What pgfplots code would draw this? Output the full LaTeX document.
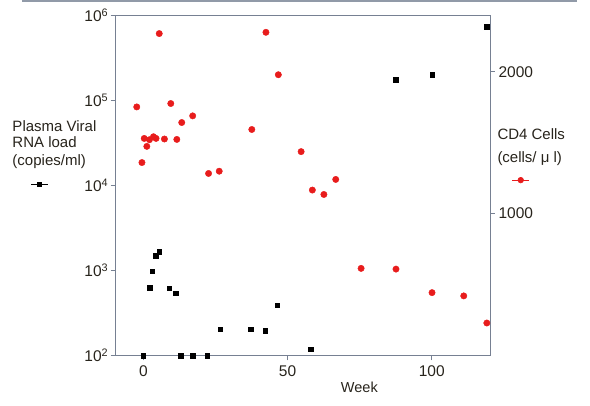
\documentclass[border=0pt]{standalone}
\usepackage{fontspec}
\setmainfont{Liberation Sans}
\usepackage{pgfplots}
\pgfplotsset{compat=1.18}
\definecolor{framegray}{RGB}{118,128,146}
\definecolor{inkbrown}{RGB}{40,36,28}
\definecolor{dotred}{RGB}{232,28,28}
\begin{document}
\begin{tikzpicture}[x=1pt,y=1pt]
\pgfplotsset{every axis/.append style={scale only axis,width=374.3pt,height=340.5pt,
  xmin=-9.6,xmax=120.2,at={(0,0)},anchor=south west,clip=false,
  tick align=outside,major tick length=5pt,
  axis line style={framegray,line width=0.8pt},tick style={framegray,line width=0.8pt},
  ticklabel style={font=\fontsize{15.5}{17}\selectfont,text=inkbrown}}}
% left: plasma viral RNA load (log)
\begin{axis}[ymode=log,ymin=100,ymax=1e6,ytick={1e2,1e3,1e4,1e5,1e6},
  yticklabels={10\textsuperscript{2},10\textsuperscript{3},10\textsuperscript{4},10\textsuperscript{5},10\textsuperscript{6}},
  yminorticks=false,xtick={0,50,100},xticklabels={0,50,100},tick pos=left,
  xticklabel style={yshift=-2pt},yticklabel style={xshift=1pt},
  xlabel={Week},xlabel style={font=\fontsize{14.5}{16}\selectfont,text=inkbrown,at={(axis description cs:0.651,0)},anchor=base,yshift=-37.5pt},
  legend style={at={(-0.227,0.504)},anchor=west,draw=none,fill=none,inner sep=0pt}]
\addplot[only marks,mark=square*,mark size=2.3pt,black,forget plot] table {
x y
0 100
2.2 622
3.0 977
4.3 1490
5.5 1667
8.9 618
11.2 542
13.0 100
17.2 100
22.1 100
26.7 204
37.2 204
42.2 195
46.4 390
58.1 119
87.5 173500
100.2 200500
119.1 726000
};
\addlegendimage{black,sharp plot,line width=0.6pt,mark=square*,mark size=2pt}
\addlegendentry{}
\end{axis}
% right: CD4 cells (linear)
\begin{axis}[axis x line=none,axis y line*=right,ymin=0,ymax=2400,
  ytick={1000,2000},yticklabels={1000,2000},
  legend style={at={(1.058,0.515)},anchor=west,draw=none,fill=none,inner sep=0pt}]
\addplot[only marks,mark=*,mark size=3.2pt,dotred,forget plot] table {
x y
-2.3 1752
-0.5 1360
0.3 1530
1.2 1474
2.1 1521
3.5 1542
4.4 1530
5.5 2269
7.3 1526
9.5 1776
11.6 1523
13.3 1642
17.1 1689
22.6 1283
26.3 1299
37.6 1593
42.5 2278
46.8 1979
54.7 1437
58.6 1166
62.6 1135
66.7 1241
75.5 614
87.6 609
100.1 443
111.1 420
119.1 229
};
\addlegendimage{dotred,sharp plot,line width=0.6pt,mark=*,mark size=2.8pt}
\addlegendentry{}
\end{axis}
\begin{scope}[font=\fontsize{15}{17}\selectfont,text=inkbrown]
\node[anchor=base west,inner sep=0pt] at (-103.4,223.5) {Plasma Viral};
\node[anchor=base west,inner sep=0pt] at (-103.4,207.5) {RNA load};
\node[anchor=base west,inner sep=0pt] at (-103.4,189.5) {(copies/ml)};
\node[anchor=base west,inner sep=0pt] at (381.6,215.5) {CD4 Cells};
\node[anchor=base west,inner sep=0pt] at (381.6,192.5) {(cells/ μ l)};
\end{scope}
\draw[framegray!80,line width=2pt] (-93.7,354.5) -- (461.3,354.5);
\pgfresetboundingbox
\useasboundingbox (-115.7,-50.5) rectangle (474.3,355.5);
\end{tikzpicture}
\end{document}
